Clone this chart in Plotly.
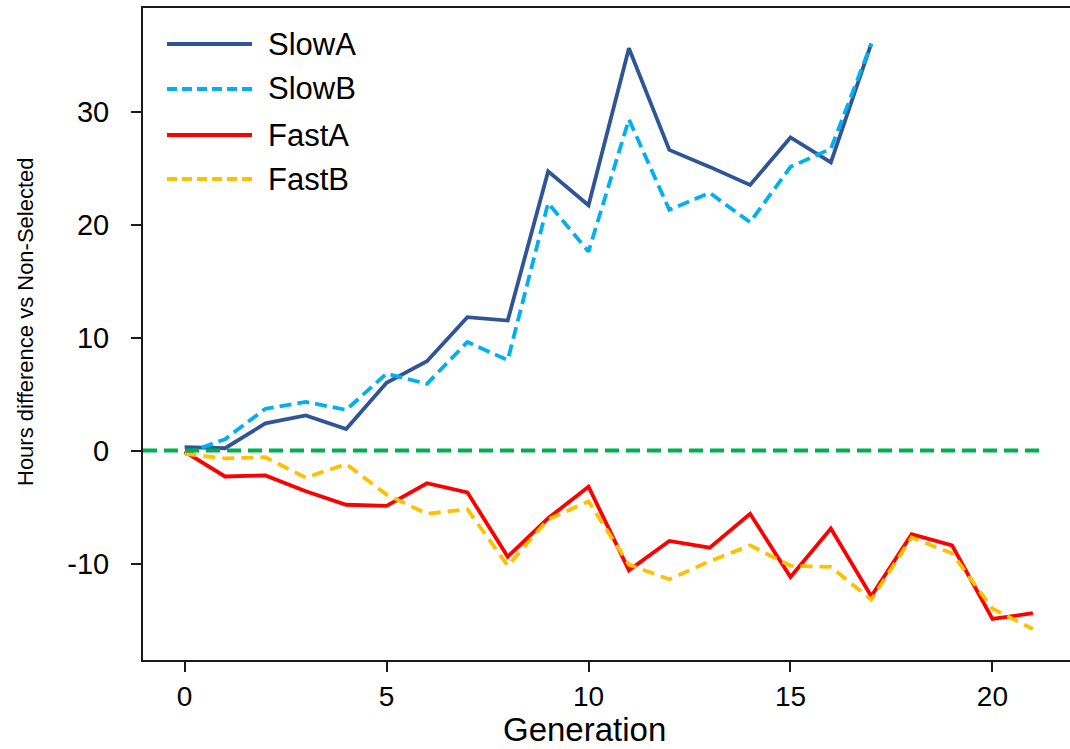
import plotly.graph_objects as go

# Generation numbers and hours difference vs. non-selected lines
generations = list(range(22))

slow_a = [0.3, 0.2, 2.4, 3.1, 1.9, 6.0, 7.9, 11.8, 11.5, 24.7, 21.7, 35.6,
          26.6, 25.1, 23.5, 27.7, 25.5, 36.0]
slow_b = [-0.3, 1.0, 3.7, 4.3, 3.6, 6.8, 5.9, 9.6, 8.0, 21.9, 17.6, 29.3,
          21.3, 22.8, 20.2, 25.1, 26.7, 36.0]
fast_a = [-0.1, -2.3, -2.2, -3.6, -4.8, -4.9, -2.9, -3.7, -9.4, -6.0, -3.2,
          -10.6, -8.0, -8.6, -5.6, -11.2, -6.9, -12.9, -7.4, -8.4, -14.9, -14.4]
fast_b = [-0.3, -0.7, -0.6, -2.4, -1.2, -3.9, -5.6, -5.2, -10.2, -6.1, -4.5,
          -10.1, -11.4, -9.8, -8.4, -10.2, -10.3, -13.2, -7.7, -9.1, -14.0, -15.8]

series_names = ["SlowA", "SlowB", "FastA", "FastB"]
series_values = [slow_a, slow_b, fast_a, fast_b]
series_colors = ["#2F5597", "#00B0F0", "#FF0000", "#FFC000"]
series_dashes = ["solid", "12px,6px", "solid", "12px,7px"]

x_ticks = [0, 5, 10, 15, 20]
y_ticks = [-10, 0, 10, 20, 30]
x_range = [-1.03, 21.92]
y_range = [-18.54, 39.16]
zero_line_x = [-1.03, 21.2]

FONT = "Liberation Sans, Arial, Helvetica, sans-serif"
W, H = 1070, 749
L, R, T, B = 143, 0, 8, 89
PW, PH = W - L - R, H - T - B


def px_to_paper(px, py):
    return (px - L) / PW, (H - B - py) / PH


fig = go.Figure()

for name, vals, color, dash in zip(series_names, series_values,
                                   series_colors, series_dashes):
    fig.add_trace(go.Scatter(
        x=generations[:len(vals)], y=vals, mode="lines", name=name,
        line=dict(color=color, width=3.8, dash=dash),
        showlegend=False, hoverinfo="x+y+name",
    ))

# dashed zero reference line
fig.add_shape(type="line", xref="x", yref="y",
              x0=zero_line_x[0], x1=zero_line_x[1], y0=0, y1=0,
              line=dict(color="#00B050", width=4, dash="14px,7px"),
              layer="above")

# legend drawn as line samples with labels
legend_rows_y = [44, 89, 135, 179]
for name, color, dash, ry in zip(series_names, series_colors,
                                 series_dashes, legend_rows_y):
    x0, y0 = px_to_paper(167, ry)
    x1, _ = px_to_paper(252, ry)
    fig.add_shape(type="line", xref="paper", yref="paper",
                  x0=x0, x1=x1, y0=y0, y1=y0,
                  line=dict(color=color, width=4,
                            dash="10px,5px" if dash != "solid" else "solid"))
    tx, ty = px_to_paper(266, ry)
    fig.add_annotation(x=tx, y=ty, xref="paper", yref="paper",
                       text=name, showarrow=False, xanchor="left",
                       yanchor="middle",
                       font=dict(family=FONT, size=31, color="#000000"))

# axis titles
gx, gy = px_to_paper(584, 729)
fig.add_annotation(x=gx, y=gy, xref="paper", yref="paper", text="Generation",
                   showarrow=False, xanchor="center", yanchor="middle",
                   font=dict(family=FONT, size=33, color="#000000"))
hx, hy = px_to_paper(25, 322)
fig.add_annotation(x=hx, y=hy, xref="paper", yref="paper",
                   text="Hours difference vs Non-Selected", textangle=-90,
                   showarrow=False, xanchor="center", yanchor="middle",
                   font=dict(family=FONT, size=22, color="#000000"))

fig.update_xaxes(
    range=x_range, tickvals=x_ticks, ticktext=[str(v) for v in x_ticks],
    showgrid=False, zeroline=False,
    showline=True, linecolor="#1a1a1a", linewidth=2, mirror=True,
    ticks="outside", ticklen=10, tickwidth=2, tickcolor="#1a1a1a",
    ticklabelstandoff=0,
    tickfont=dict(family=FONT, size=28, color="#000000"),
)
fig.update_yaxes(
    range=y_range, tickvals=y_ticks, ticktext=[str(v) for v in y_ticks],
    showgrid=False, zeroline=False,
    showline=True, linecolor="#1a1a1a", linewidth=2, mirror=False,
    ticks="outside", ticklen=10, tickwidth=2, tickcolor="#1a1a1a",
    ticklabelstandoff=16,
    tickfont=dict(family=FONT, size=29, color="#000000"),
)

fig.update_layout(
    width=W, height=H,
    margin=dict(l=L, r=R, t=T, b=B, pad=0),
    plot_bgcolor="white", paper_bgcolor="white",
    showlegend=False,
)

fig.write_html("out.html")
